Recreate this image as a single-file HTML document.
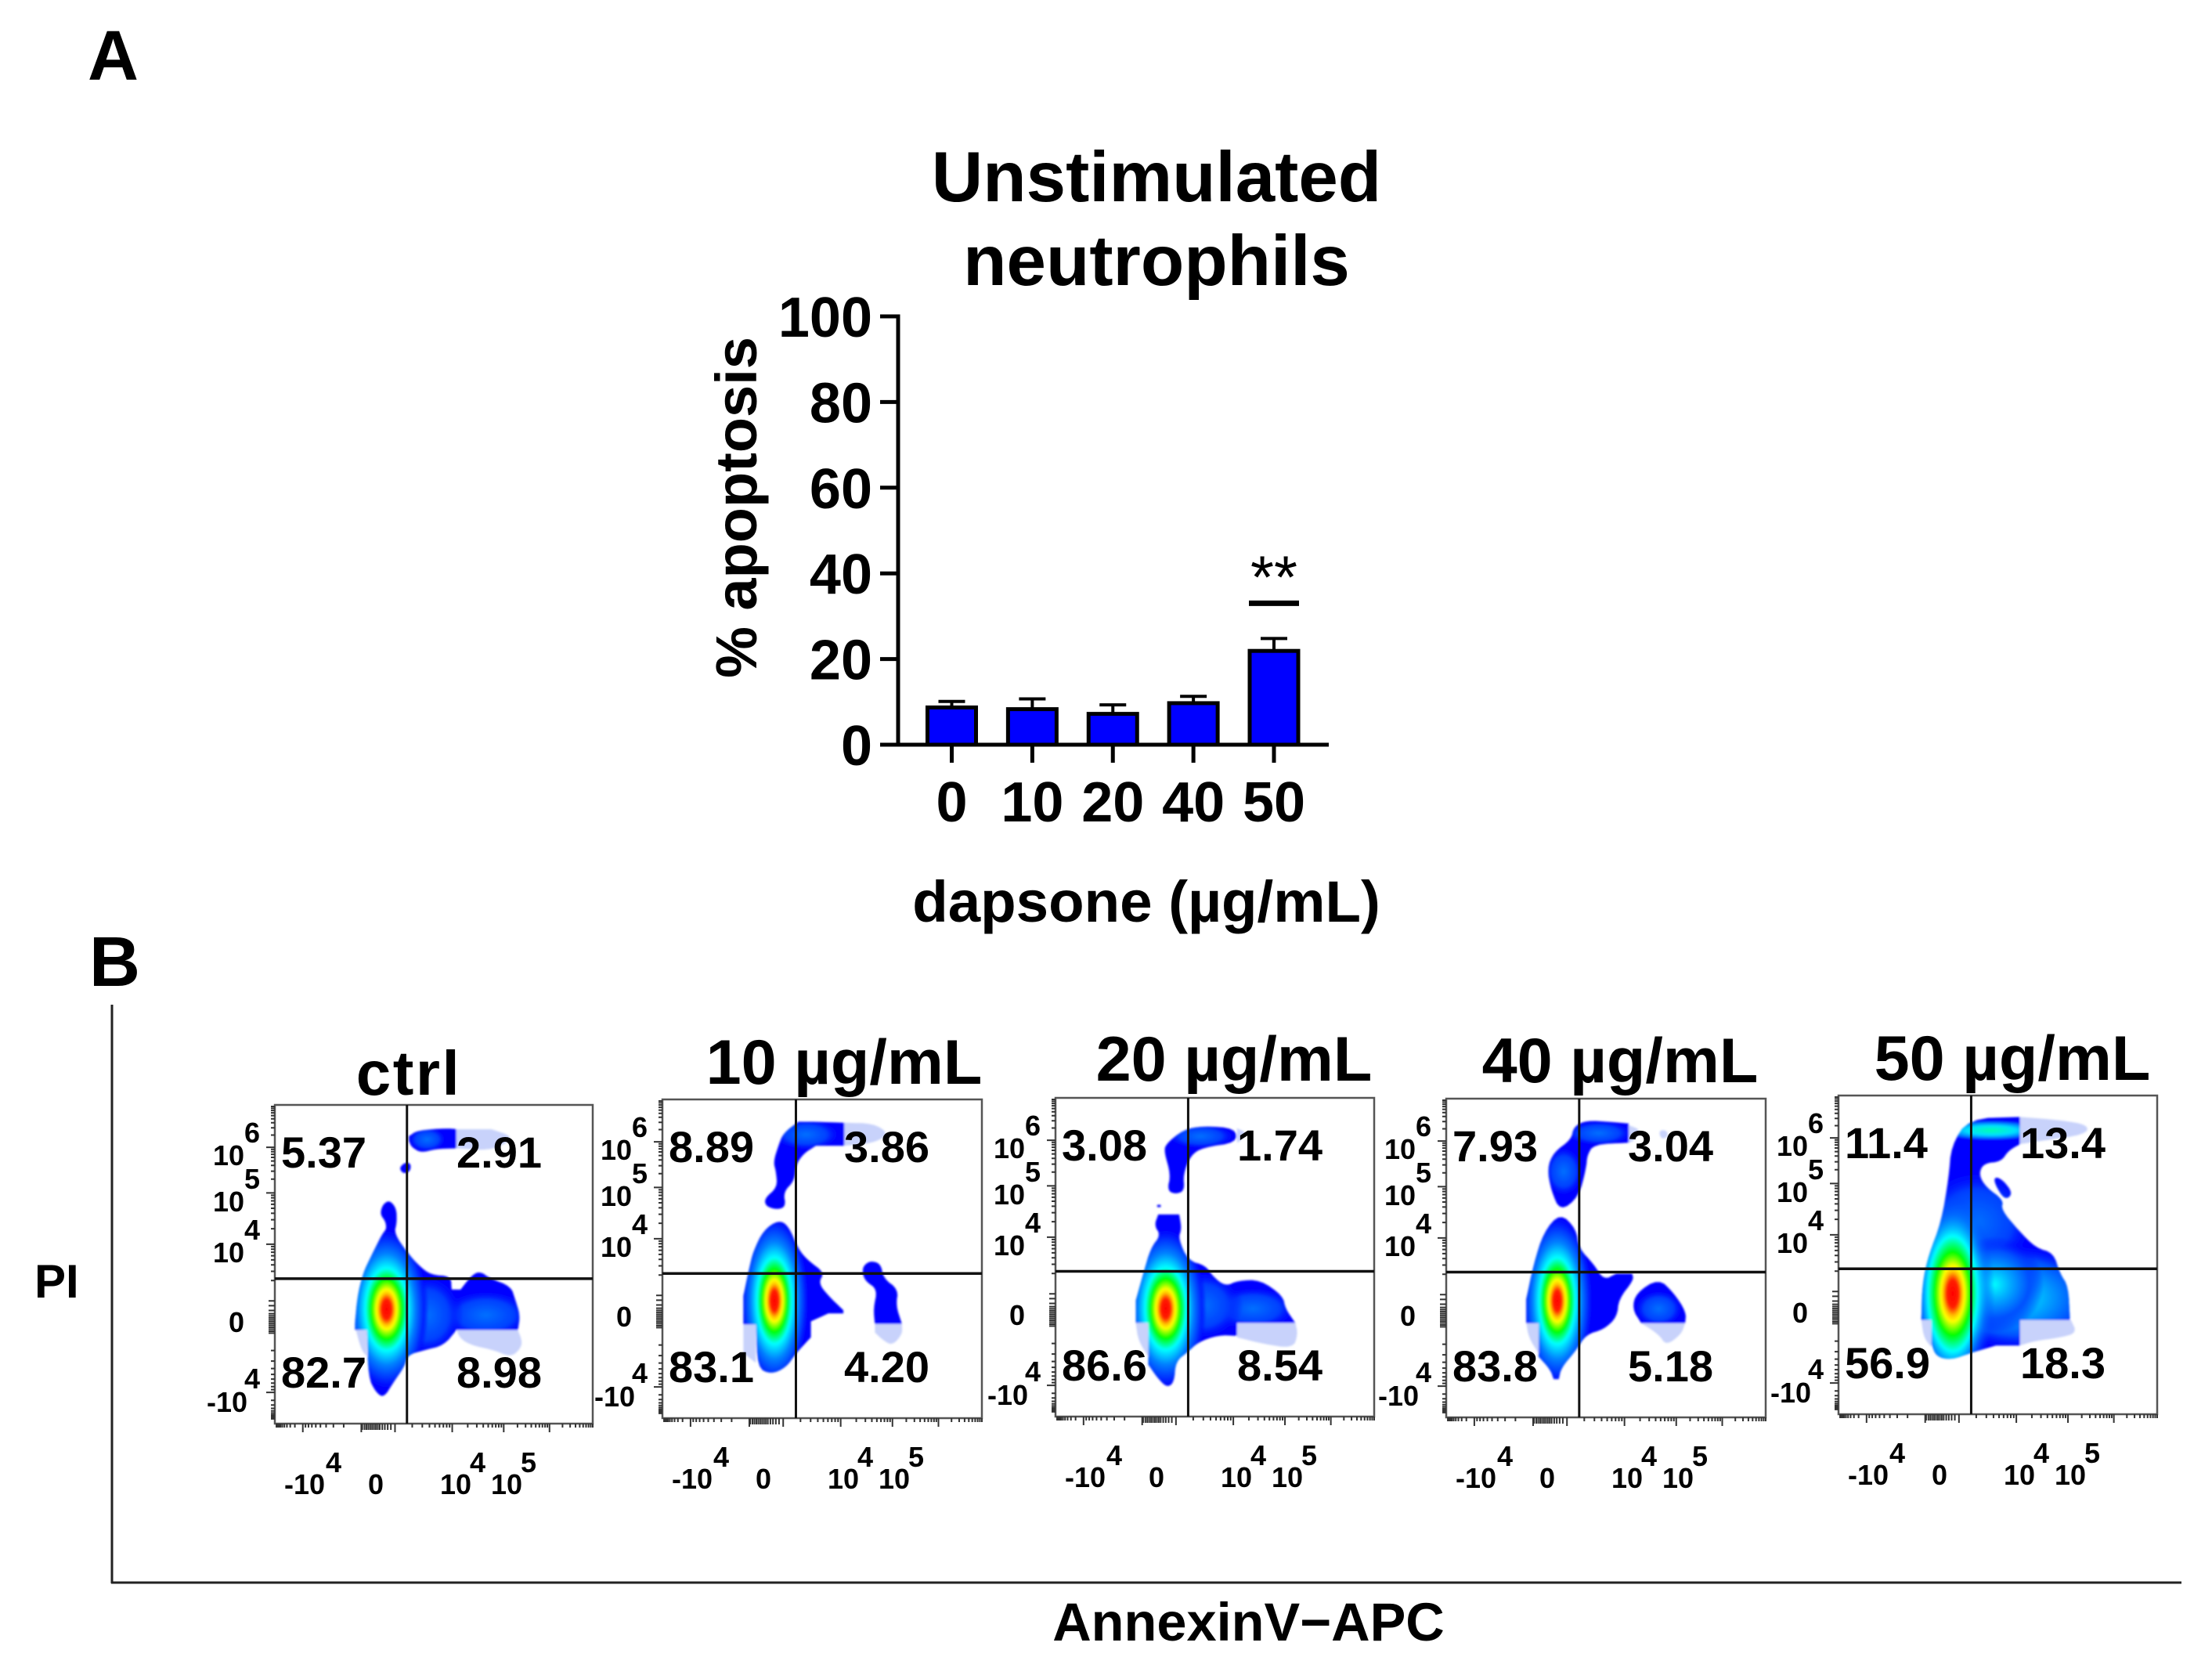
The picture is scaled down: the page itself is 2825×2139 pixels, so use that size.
<!DOCTYPE html>
<html lang="en">
<head>
<meta charset="utf-8">
<title>Dapsone neutrophil apoptosis</title>
<style>
html,body{margin:0;padding:0;background:#fff;}
svg{display:block;}
text{font-family:"Liberation Sans",sans-serif;font-weight:bold;fill:#000;}
</style>
</head>
<body>
<svg id="fig" xmlns="http://www.w3.org/2000/svg" width="2825" height="2139" viewBox="0 0 2825 2139">
<defs>
<radialGradient id="jet">
<stop offset="0" stop-color="#ff0000"/>
<stop offset=".12" stop-color="#ff2000"/>
<stop offset=".19" stop-color="#ffc000"/>
<stop offset=".24" stop-color="#ffff00"/>
<stop offset=".36" stop-color="#00ff00"/>
<stop offset=".5" stop-color="#00ffff"/>
<stop offset=".68" stop-color="#0080ff"/>
<stop offset=".88" stop-color="#0020ff"/>
<stop offset="1" stop-color="#0000ff" stop-opacity="0"/>
</radialGradient>
<radialGradient id="jetWide">
<stop offset="0" stop-color="#ff0000"/>
<stop offset=".12" stop-color="#ff2000"/>
<stop offset=".19" stop-color="#ffc000"/>
<stop offset=".24" stop-color="#ffff00"/>
<stop offset=".36" stop-color="#00ff00"/>
<stop offset=".5" stop-color="#00ffff"/>
<stop offset=".68" stop-color="#0080ff" stop-opacity=".6"/>
<stop offset=".85" stop-color="#0040ff" stop-opacity="0"/>
</radialGradient>
<radialGradient id="glow">
<stop offset="0" stop-color="#0070ff"/>
<stop offset=".6" stop-color="#0040ff"/>
<stop offset="1" stop-color="#0000ff" stop-opacity="0"/>
</radialGradient>
<radialGradient id="cyan">
<stop offset="0" stop-color="#00ffff"/>
<stop offset=".3" stop-color="#00b0ff"/>
<stop offset=".7" stop-color="#0050ff"/>
<stop offset="1" stop-color="#0000ff" stop-opacity="0"/>
</radialGradient>
<radialGradient id="band">
<stop offset="0" stop-color="#00ffb0"/>
<stop offset=".45" stop-color="#00e0ff"/>
<stop offset=".8" stop-color="#0060ff"/>
<stop offset="1" stop-color="#0000ff" stop-opacity="0"/>
</radialGradient>
<filter id="soft" x="-5%" y="-5%" width="110%" height="110%"><feGaussianBlur stdDeviation="1.4"/></filter>
</defs>

<text x="112" y="102" font-size="90">A</text>
<text x="114" y="1259" font-size="90">B</text>

<text x="1477" y="257" font-size="90.7" text-anchor="middle">Unstimulated</text>
<text x="1477" y="364" font-size="90.7" text-anchor="middle">neutrophils</text>
<text transform="translate(966,648) rotate(-90)" font-size="74" text-anchor="middle">% apoptosis</text>
<text x="1464" y="1177" font-size="74.5" text-anchor="middle">dapsone (µg/mL)</text>

<g id="bar-chart"></g>

<line x1="143" y1="1283" x2="143" y2="2022" stroke="#222" stroke-width="3"/>
<line x1="142" y1="2021" x2="2786" y2="2021" stroke="#222" stroke-width="3"/>
<text x="44" y="1657" font-size="60">PI</text>
<text x="1594.5" y="2095" font-size="68.5" text-anchor="middle">AnnexinV−APC</text>

<g id="flow-panels"></g>
</svg>

<script>
/* ---------- bar chart data ---------- */
const doseCategories = ['0', '10', '20', '40', '50'];
const apoptosisMean = [8.7, 8.3, 7.2, 9.7, 21.9];
const apoptosisErrorTop = [10.1, 10.7, 9.3, 11.3, 24.8];
const percentTicks = [0, 20, 40, 60, 80, 100];
const significanceLabels = ['', '', '', '', '**'];

/* ---------- flow panel data ---------- */
const panelTitles = ['ctrl', '10 µg/mL', '20 µg/mL', '40 µg/mL', '50 µg/mL'];
const upperLeftPct = ['5.37', '8.89', '3.08', '7.93', '11.4'];
const upperRightPct = ['2.91', '3.86', '1.74', '3.04', '13.4'];
const lowerLeftPct = ['82.7', '83.1', '86.6', '83.8', '56.9'];
const lowerRightPct = ['8.98', '4.20', '8.54', '5.18', '18.3'];

/* channel domains of each plot, with the quadrant gate */
const channelDomainX = [[255, 1393], [88, 727], [874, 1513], [90, 729], [874, 1513]];
const channelDomainY = [[222, 1220], [255, 1253], [250, 1248], [252, 1250], [243, 1240]];
const gateX = [728, 355, 1140, 356, 1140];
const gateY = [766, 800, 793, 795, 785];

/* density contours in channel units */
const ctrlSolid = [
  [[665,520],[690,545],[692,590],[682,625],[730,685],[770,725],[815,755],[885,758],[888,800],[920,800],[960,755],[990,743],[1025,765],[1100,790],[1115,830],[1133,880],[1125,927],[905,927],[860,975],[790,990],[730,1005],[720,1040],[680,1090],[645,1140],[615,1120],[590,1075],[585,927],[542,927],[542,905],[550,825],[570,750],[600,695],[640,625],[655,610],[650,585],[632,565],[640,535]],
  [[735,320],[765,302],[870,295],[905,298],[905,358],[830,360],[780,372],[745,355],[735,335]],
  [[700,420],[720,402],[742,405],[740,430],[715,438]]
];
const ctrlFaint = [
  [[905,927],[1125,927],[1140,960],[1135,985],[1100,1012],[1040,990],[960,975],[920,955]],
  [[545,927],[585,927],[585,1010],[565,990]],
  [[905,298],[1030,298],[1100,318],[1090,340],[1020,365],[905,358]]
];
const ctrlPeaks = [[1010,880,170,80,'glow'],[800,880,130,130,'glow'],[800,330,70,40,'glow'],[655,862,151,257,'jet']];

const dose10Solid = [
  [[330,360],[360,325],[390,325],[452,328],[452,400],[395,400],[370,425],[355,460],[352,510],[330,545],[335,590],[318,600],[295,590],[292,565],[318,530],[315,480],[310,450],[320,400]],
  [[320,633],[340,650],[360,725],[380,760],[412,797],[400,830],[420,870],[450,915],[450,925],[420,925],[385,950],[385,1000],[355,1050],[335,1095],[305,1115],[278,1095],[275,960],[250,960],[250,870],[262,780],[270,730],[290,665]],
  [[490,775],[505,760],[525,770],[530,815],[560,850],[555,900],[567,958],[513,958],[510,910],[518,850],[495,825],[488,800]]
];
const dose10Faint = [
  [[452,328],[510,330],[540,360],[520,385],[490,395],[452,400]],
  [[250,960],[275,960],[275,1080],[250,1050]],
  [[513,958],[567,958],[568,990],[548,1025],[530,1010],[513,985]]
];
const dose10Peaks = [[375,365,70,50,'glow'],[312,885,70,270,'jet']];

const dose20Solid = [
  [[1095,395],[1130,350],[1170,338],[1235,345],[1238,390],[1170,405],[1145,430],[1130,490],[1133,540],[1115,552],[1098,540],[1105,490],[1092,420]],
  [[1078,585],[1085,585],[1085,592],[1078,592]],
  [[1080,615],[1122,615],[1127,660],[1120,690],[1140,760],[1175,775],[1190,810],[1215,840],[1240,822],[1285,820],[1330,870],[1335,910],[1355,955],[1238,955],[1238,995],[1200,993],[1160,1015],[1140,1045],[1115,1075],[1112,1140],[1098,1157],[1080,1130],[1060,1085],[1060,955],[1035,955],[1035,885],[1050,800],[1065,720],[1085,680],[1072,650]]
];
const dose20Faint = [
  [[1238,345],[1258,360],[1245,385],[1238,390]],
  [[1238,955],[1355,955],[1360,990],[1350,1035],[1290,1020],[1238,1000]],
  [[1035,955],[1060,955],[1060,1060],[1040,1010]]
];
const dose20Peaks = [[1270,910,90,70,'glow'],[1170,900,80,110,'glow'],[1165,370,70,40,'glow'],[1095,910,82,257,'jet']];

const dose40Solid = [
  [[345,340],[370,320],[420,325],[455,330],[455,390],[385,395],[372,430],[370,470],[355,560],[318,605],[300,540],[292,470],[305,420],[340,380]],
  [[318,610],[350,660],[355,720],[385,770],[405,820],[430,800],[462,800],[465,820],[435,880],[432,935],[405,975],[370,990],[350,1040],[320,1095],[315,1130],[305,1130],[298,1100],[275,1060],[275,955],[250,955],[250,880],[265,770],[285,670]],
  [[515,815],[545,860],[570,920],[568,955],[480,955],[462,910],[470,860]]
];
const dose40Faint = [
  [[455,335],[480,350],[465,385],[455,390]],
  [[515,352],[530,350],[535,370],[520,380]],
  [[480,955],[568,955],[560,990],[530,1025],[515,990]],
  [[250,955],[275,955],[275,1050],[255,1000]]
];
const dose40Peaks = [[515,910,50,60,'glow'],[395,360,70,40,'glow'],[325,480,40,80,'glow'],[312,885,72,270,'jet']];

const dose50Solid = [
  [[1135,315],[1238,310],[1238,395],[1215,415],[1200,450],[1165,455],[1155,490],[1170,530],[1205,570],[1200,600],[1235,665],[1270,720],[1305,735],[1318,800],[1335,840],[1338,945],[1238,945],[1238,1025],[1190,1025],[1140,1048],[1100,1070],[1070,1060],[1060,1020],[1060,945],[1040,945],[1042,830],[1055,740],[1080,640],[1095,500],[1100,400]],
  [[1190,497],[1205,510],[1222,545],[1215,565],[1202,560],[1185,510]]
];
const dose50Faint = [
  [[1238,310],[1320,320],[1375,335],[1370,365],[1280,385],[1238,395]],
  [[1238,945],[1340,945],[1352,985],[1320,1000],[1270,1010],[1238,1025]],
  [[1040,945],[1060,945],[1060,1030],[1045,1000]]
];
const dose50Peaks = [[1180,352,110,32,'band'],[1150,640,120,170,'glow'],[1233,875,170,170,'cyan'],[1186,834,100,150,'cyan'],[1103,863,99,360,'jetWide']];

const panelSolid = [ctrlSolid, dose10Solid, dose20Solid, dose40Solid, dose50Solid];
const panelFaint = [ctrlFaint, dose10Faint, dose20Faint, dose40Faint, dose50Faint];
const panelPeaks = [ctrlPeaks, dose10Peaks, dose20Peaks, dose40Peaks, dose50Peaks];

/* tick labels of the biexponential axes */
const yTickBase = ['10', '10', '10', '0', '-10'];
const yTickExp = ['6', '5', '4', '', '4'];
const xTickBase = ['-10', '0', '10', '10'];
const xTickExp = ['4', '', '4', '5'];

/* ---------- layout (pixels) ---------- */
const NS = 'http://www.w3.org/2000/svg';
const panelBox = [
  {l:351, t:1411, w:406, h:407, tx:522, ty:1398},
  {l:846, t:1404, w:408, h:407, tx:1078, ty:1384},
  {l:1348, t:1402, w:407, h:407, tx:1576, ty:1380},
  {l:1847, t:1403, w:408, h:407, tx:2069, ty:1382},
  {l:2348, t:1399, w:407, h:407, tx:2570, ty:1379}
];
const yLabelOffset = [[-79,77,-39,48],[-79,136,-39,107],[-79,201,-39,172],[-59,290,0,0],[-87,392,-39,362]];
const xLabelOffset = [[12,497,65,469],[119,497,0,0],[211,497,249,469],[276,497,314,469]];
/* fractional positions of axis decades on each frame */
const xDecadeSpans = [[.558,.72],[.72,.864],[.864,1.0],[.378,.558],[.272,.088],[.088,.005]];
const yDecadeSpans = [[.133,.005],[.276,.133],[.437,.276],[.6,.437],[.714,.902],[.902,.985]];
const xMajorFractions = [.088,.272,.378,.558,.72,.864];
const yMajorFractions = [.133,.276,.437,.902];
const xClusterFractions = [.275,.282,.288,.294,.3,.306,.312,.318,.324,.33,.338,.346,.355,.365];
const yClusterFractions = [.615,.63,.645,.655,.662,.668,.674,.68,.686,.692,.698,.704,.71,.716];

function make(tag, parent) {
  const el = document.createElementNS(NS, tag);
  parent.appendChild(el);
  return el;
}
function put(el, attrs) {
  for (const k in attrs) el.setAttribute(k, attrs[k]);
  return el;
}
/* corner-cutting so contours look rounded, keeping the gate-aligned cuts sharp */
function roundCorners(poly, rounds) {
  let out = [];
  poly.forEach((a, i) => {
    const prev = poly[(i + poly.length - 1) % poly.length];
    const next = poly[(i + 1) % poly.length];
    const aligned = a[0] === next[0] || a[1] === next[1] || a[0] === prev[0] || a[1] === prev[1];
    out.push(a);
    if (aligned) out.push(a, a);
  });
  for (let r = 0; r < rounds; r++) {
    const cut = [];
    out.forEach((a, i) => {
      const b = out[(i + 1) % out.length];
      cut.push([a[0] * .75 + b[0] * .25, a[1] * .75 + b[1] * .25]);
      cut.push([a[0] * .25 + b[0] * .75, a[1] * .25 + b[1] * .75]);
    });
    out = cut;
  }
  return out;
}

/* ---------- bar chart drawing ---------- */
const yPercent = v => 951 - (v - 0) / (100 - 0) * (951 - 404);
const xDose = i => 1215.5 + i * (1627 - 1215.5) / (doseCategories.length - 1);
const barGroup = document.getElementById('bar-chart');

percentTicks.forEach((tick) => {
  const t = make('line', barGroup);
  
  
  put(t, {x1:1124, x2:1147, y1:yPercent(tick), y2:yPercent(tick), stroke:'#000', 'stroke-width':5});
  const l = make('text', barGroup);
  
  
  put(l, {x:1114, y:yPercent(tick) + 26, 'font-size':72, 'text-anchor':'end'});
  l.textContent = tick;
});

doseCategories.forEach((cat, i) => {
  const cx = xDose(i);
  const err = make('line', barGroup);
  
  
  put(err, {x1:cx, x2:cx, y1:yPercent(apoptosisMean[i]), y2:yPercent(apoptosisErrorTop[i]), stroke:'#000', 'stroke-width':4});
  const cap = make('line', barGroup);
  
  
  put(cap, {x1:cx - 17, x2:cx + 17, y1:yPercent(apoptosisErrorTop[i]), y2:yPercent(apoptosisErrorTop[i]), stroke:'#000', 'stroke-width':4});
  const bar = make('rect', barGroup);
  
  
  put(bar, {x:cx - 31, y:yPercent(apoptosisMean[i]), width:62, height:yPercent(0) - yPercent(apoptosisMean[i]), fill:'#0000ff', stroke:'#000', 'stroke-width':5});
  const t = make('line', barGroup);
  
  
  put(t, {x1:cx, x2:cx, y1:951, y2:974, stroke:'#000', 'stroke-width':5});
  const l = make('text', barGroup);
  
  
  put(l, {x:cx, y:1049, 'font-size':72, 'text-anchor':'middle'});
  l.textContent = cat;
  if (significanceLabels[i]) {
    const sigY = yPercent(apoptosisErrorTop[i]);
    const sb = make('line', barGroup);
    
    
    put(sb, {x1:cx - 32, x2:cx + 32, y1:sigY - 45, y2:sigY - 45, stroke:'#000', 'stroke-width':7});
    const st = make('text', barGroup);
    
    
    put(st, {x:cx, y:sigY - 52, 'font-size':77, 'text-anchor':'middle', style:'font-weight:normal'});
    st.textContent = significanceLabels[i];
  }
});

const yAxisLine = make('line', barGroup);


put(yAxisLine, {x1:1147, x2:1147, y1:yPercent(100) - 2.5, y2:yPercent(0) + 2.5, stroke:'#000', 'stroke-width':5});
const xAxisLine = make('line', barGroup);


put(xAxisLine, {x1:1124, x2:1697, y1:yPercent(0), y2:yPercent(0), stroke:'#000', 'stroke-width':5});

/* ---------- flow panels ---------- */
function tickPath(spans, majors, cluster, isX, box) {
  let d = '';
  const seg = (f, len) => {
    if (isX) {
      const x = box.l + f * box.w;
      d += 'M' + x + ' ' + (box.t + box.h) + 'v' + len;
    } else {
      const y = box.t + f * box.h;
      d += 'M' + box.l + ' ' + y + 'h' + (-len);
    }
  };
  spans.forEach(s => {
    for (let k = 2; k <= 9; k++) seg(s[0] + (s[1] - s[0]) * Math.log10(k), 5);
    seg(s[1], 5);
  });
  cluster.forEach(f => seg(f, 8));
  majors.forEach(f => seg(f, 11));
  return d;
}

const panelsGroup = document.getElementById('flow-panels');

panelTitles.forEach((title, p) => {
  const box = panelBox[p];
  const sx = c => box.l + (c - channelDomainX[p][0]) / (channelDomainX[p][1] - channelDomainX[p][0]) * box.w;
  const sy = c => box.t + (c - channelDomainY[p][0]) / (channelDomainY[p][1] - channelDomainY[p][0]) * box.h;
  const pts = poly => roundCorners(poly, 2).map(q => sx(q[0]).toFixed(1) + ',' + sy(q[1]).toFixed(1)).join(' ');

  const g = make('g', panelsGroup);
  
  

  const clip = make('clipPath', g);
  clip.setAttribute('id', 'clip-' + p);
  panelSolid[p].forEach(poly => {
    put(make('polygon', clip), {points:pts(poly)});
  });

  const density = make('g', g);
  
  
  density.setAttribute('filter', 'url(#soft)');

  panelFaint[p].forEach(poly => {
    const el = make('polygon', density);
    
    
    put(el, {points:pts(poly), fill:'#c8d2fb'});
  });
  panelSolid[p].forEach(poly => {
    const el = make('polygon', density);
    
    
    put(el, {points:pts(poly), fill:'#0000ff'});
  });
  const hot = make('g', density);
  hot.setAttribute('clip-path', 'url(#clip-' + p + ')');
  panelPeaks[p].forEach(pk => {
    const el = make('ellipse', hot);
    
    
    const rx = Math.abs(sx(pk[0] + pk[2]) - sx(pk[0]));
    const ry = Math.abs(sy(pk[1] + pk[3]) - sy(pk[1]));
    put(el, {cx:sx(pk[0]), cy:sy(pk[1]), rx:rx, ry:ry, fill:'url(#' + pk[4] + ')'});
  });

  const frame = make('rect', g);
  
  
  put(frame, {x:box.l, y:box.t, width:box.w, height:box.h, fill:'none', stroke:'#555', 'stroke-width':2.5});

  const xt = make('path', g);
  
  
  put(xt, {d:tickPath(xDecadeSpans, xMajorFractions, xClusterFractions, true, box), stroke:'#333', 'stroke-width':2, fill:'none'});
  const yt = make('path', g);
  
  
  put(yt, {d:tickPath(yDecadeSpans, yMajorFractions, yClusterFractions, false, box), stroke:'#333', 'stroke-width':2, fill:'none'});

  const gv = make('line', g);
  
  
  put(gv, {x1:sx(gateX[p]), x2:sx(gateX[p]), y1:box.t, y2:box.t + box.h, stroke:'#111', 'stroke-width':3});
  const gh = make('line', g);
  
  
  put(gh, {x1:box.l, x2:box.l + box.w, y1:sy(gateY[p]), y2:sy(gateY[p]), stroke:'#111', 'stroke-width':3.5});

  const head = make('text', g);
  
  
  put(head, {x:box.tx, y:box.ty, 'font-size':p === 0 ? 80 : 81, 'text-anchor':'middle'});
  if (p === 0) head.setAttribute('letter-spacing', '2.5');
  head.textContent = title;

  const quadLeft = box.l + 8;
  const quadRight = box.l + 232;
  const quadTop = box.t + 80;
  const quadBottom = box.t + 361;
  [[upperLeftPct, quadLeft, quadTop, 'upper-left'], [upperRightPct, quadRight, quadTop, 'upper-right'],
   [lowerLeftPct, quadLeft, quadBottom, 'lower-left'], [lowerRightPct, quadRight, quadBottom, 'lower-right']].forEach(q => {
    const t = make('text', g);
    
    
    put(t, {x:q[1], y:q[2], 'font-size':56});
    t.textContent = q[0][p];
  });

  yTickBase.forEach((lab, i) => {
    const o = yLabelOffset[i];
    const t = make('text', g);
    
    
    put(t, {x:box.l + o[0], y:box.t + o[1], 'font-size':36});
    t.textContent = lab;
    if (yTickExp[i]) {
      const e = make('text', g);
      
      
      put(e, {x:box.l + o[2], y:box.t + o[3], 'font-size':36});
      e.textContent = yTickExp[i];
    }
  });
  xTickBase.forEach((lab, i) => {
    const o = xLabelOffset[i];
    const t = make('text', g);
    
    
    put(t, {x:box.l + o[0], y:box.t + o[1], 'font-size':36});
    t.textContent = lab;
    if (xTickExp[i]) {
      const e = make('text', g);
      
      
      put(e, {x:box.l + o[2], y:box.t + o[3], 'font-size':36});
      e.textContent = xTickExp[i];
    }
  });
});
</script>
</body>
</html>
